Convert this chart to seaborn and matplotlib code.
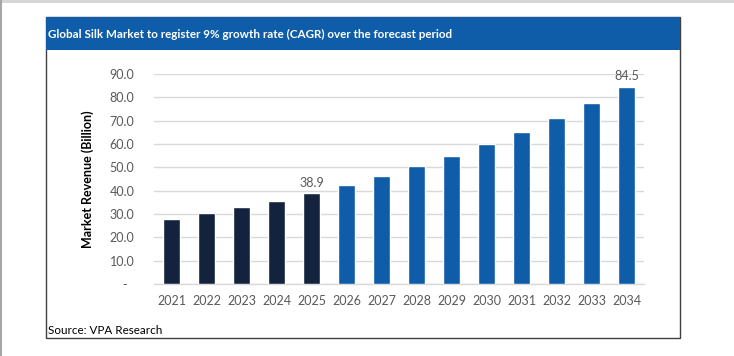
import matplotlib
matplotlib.use("Agg")
import matplotlib.pyplot as plt
import seaborn as sns
import pandas as pd
from matplotlib.patches import Rectangle
from matplotlib.lines import Line2D
from matplotlib.ticker import FuncFormatter

years = ["2021", "2022", "2023", "2024", "2025", "2026", "2027", "2028", "2029",
         "2030", "2031", "2032", "2033", "2034"]
revenue = [28.0, 30.3, 32.9, 35.7, 38.9, 42.4, 46.2, 50.4, 54.9, 59.8, 65.2, 71.1, 77.5, 84.5]
labelled_years = ["2025", "2034"]
title = "Global Silk Market to register 9% growth rate (CAGR) over the forecast period"
ylabel = "Market Revenue (Billion)"
source = "Source: VPA Research"
yticks = [0, 10, 20, 30, 40, 50, 60, 70, 80, 90]

DARK = "#13233D"
BLUE = "#0F5DA8"
colors = [DARK if int(y) <= 2025 else BLUE for y in years]

sns.set_theme(style="white")
plt.rcParams["font.family"] = ["Lato", "DejaVu Sans"]

W, H = 734, 356
fig = plt.figure(figsize=(W / 100, H / 100), dpi=100)

def fx(px):
    return px / W

def fy(py):
    return 1 - py / H

# outer page lines
fig.add_artist(Line2D([0, 1], [fy(1), fy(1)], color="#D4D4D4", lw=2, transform=fig.transFigure))
fig.add_artist(Line2D([fx(1), fx(1)], [0, 1], color="#A6A6A6", lw=1.5, transform=fig.transFigure))

# chart box
fig.add_artist(Rectangle((fx(46), fy(338)), fx(680) - fx(46), fy(17) - fy(338),
                         transform=fig.transFigure, facecolor="white", edgecolor="#404040", lw=1, zorder=0))
# title bar
fig.add_artist(Rectangle((fx(46), fy(50)), fx(680) - fx(46), fy(17) - fy(50),
                         transform=fig.transFigure, facecolor=BLUE, edgecolor="none", zorder=1))
fig.text(fx(48), fy(34), title, color="white", fontsize=8.4, fontweight="bold", va="center", ha="left")
fig.text(fx(48), fy(331), source, color="black", fontsize=8.4, va="center", ha="left")

ax = fig.add_axes([fx(154), fy(284), fx(644) - fx(154), fy(74) - fy(284)])
ax.set_facecolor("none")
df = pd.DataFrame({"year": years, "revenue": revenue})
sns.barplot(data=df, x="year", y="revenue", hue="year", palette=colors, legend=False,
            width=0.51, ax=ax, saturation=1, zorder=3)

ax.set_ylim(0, 90)
ax.set_xlim(-0.5, len(years) - 0.5)
ax.set_yticks(yticks)
ax.yaxis.set_major_formatter(FuncFormatter(lambda v, p: "-  " if v == 0 else f"{v:.1f}"))
ax.grid(axis="y", color="#D9D9D9", lw=1, zorder=0)
ax.grid(axis="x", visible=False)
for s in ["top", "right", "left"]:
    ax.spines[s].set_visible(False)
ax.spines["bottom"].set_color("#D9D9D9")
ax.spines["bottom"].set_linewidth(1)
ax.tick_params(axis="both", length=0, labelsize=9, colors="#595959")
ax.tick_params(axis="y", pad=14)
ax.tick_params(axis="x", pad=8)
ax.set_xlabel("")
ax.set_ylabel(ylabel, fontsize=9, fontweight="bold", color="black", labelpad=11.5)

for i, (y, v) in enumerate(zip(years, revenue)):
    if y in labelled_years:
        ax.text(i, v + 2.0, f"{v:.1f}", ha="center", va="bottom", fontsize=9, color="#595959")

fig.savefig("out.png", dpi=100)
